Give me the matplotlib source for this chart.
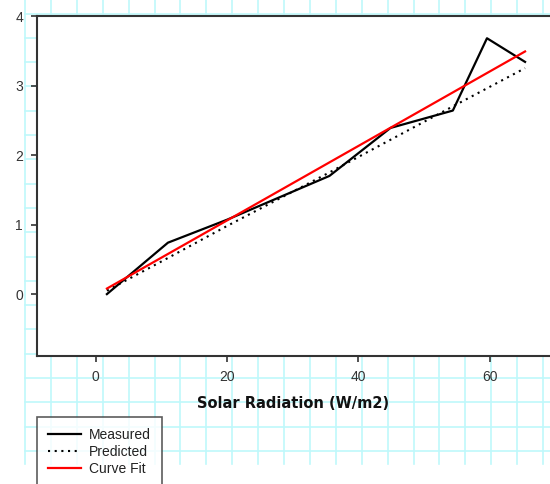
import numpy as np
import matplotlib
matplotlib.use("Agg")
import matplotlib.pyplot as plt

# Data
x_meas = [1.7, 11.0, 20.0, 35.6, 44.9, 54.4, 59.6, 65.4]
y_meas = [0.00, 0.74, 1.07, 1.70, 2.39, 2.64, 3.68, 3.34]
y_pred = [0.05, 0.52, 0.98, 1.75, 2.22, 2.70, 2.96, 3.25]
x_fit = [1.7, 65.4]
y_fit = [0.08, 3.49]
x_ticks = [0, 20, 40, 60]
y_ticks = [0, 1, 2, 3, 4]
x_label = "Solar Radiation (W/m2)"
legend_labels = ["Measured", "Predicted", "Curve Fit"]

plt.rcParams['font.family'] = ['Liberation Sans', 'DejaVu Sans']

W, H = 550, 484
fig = plt.figure(figsize=(W / 100, H / 100), dpi=100)
fig.patch.set_facecolor('white')

# Background graph-paper grid
bg = fig.add_axes([0, 0, 1, 1])
bg.set_xlim(0, W)
bg.set_ylim(H, 0)
bg.axis('off')
grid_c = '#bff8fb'
gx = np.arange(25, W + 1, 25.9)
gy = np.arange(451, -1, -24.3)
for v in gx:
    bg.plot([v, v], [0, 464], color=grid_c, lw=1.2, zorder=0)
for h in gy:
    bg.plot([25, W], [h, h], color=grid_c, lw=1.2, zorder=0)

# Main axes
l, t, r, b = 37, 16, 550, 356
ax = fig.add_axes([l / W, 1 - b / H, (r - l) / W, (b - t) / H])
ax.set_facecolor('white')
ax.set_xlim(-8.95, 69.2)
ax.set_ylim(-0.89, 4.0)

ax.plot(x_meas, y_meas, color='black', lw=1.6, label=legend_labels[0], zorder=3)
ax.plot(x_meas, y_pred, color='black', lw=1.5, linestyle=(0, (1, 2.2)),
        label=legend_labels[1], zorder=2)
ax.plot(x_fit, y_fit, color='#ff0000', lw=1.6, label=legend_labels[2], zorder=4)

ax.set_xticks(x_ticks)
ax.set_yticks(y_ticks)
for s in ['left', 'bottom', 'top']:
    ax.spines[s].set_color('#333333')
    ax.spines[s].set_linewidth(1.5)
ax.spines['right'].set_visible(False)
ax.tick_params(direction='out', length=4, width=1.2, color='#333333',
               labelsize=10, labelcolor='#333333', pad=6)
ax.set_xlabel(x_label, fontsize=10.5, fontweight='bold', color='#111111',
              labelpad=9, family='DejaVu Sans')

handles, labels = ax.get_legend_handles_labels()
leg = fig.legend(handles, labels, loc='upper left',
                 bbox_to_anchor=(l / W, 1 - 417 / H), fontsize=10,
                 frameon=True, fancybox=False, edgecolor='#333333',
                 handlelength=2.4, handletextpad=0.55, labelspacing=0.2,
                 borderpad=0.8, borderaxespad=0)
leg.get_frame().set_linewidth(1.2)
leg.get_frame().set_facecolor('white')
for txt in leg.get_texts():
    txt.set_color('#222222')

fig.savefig('out.png', dpi=100)
